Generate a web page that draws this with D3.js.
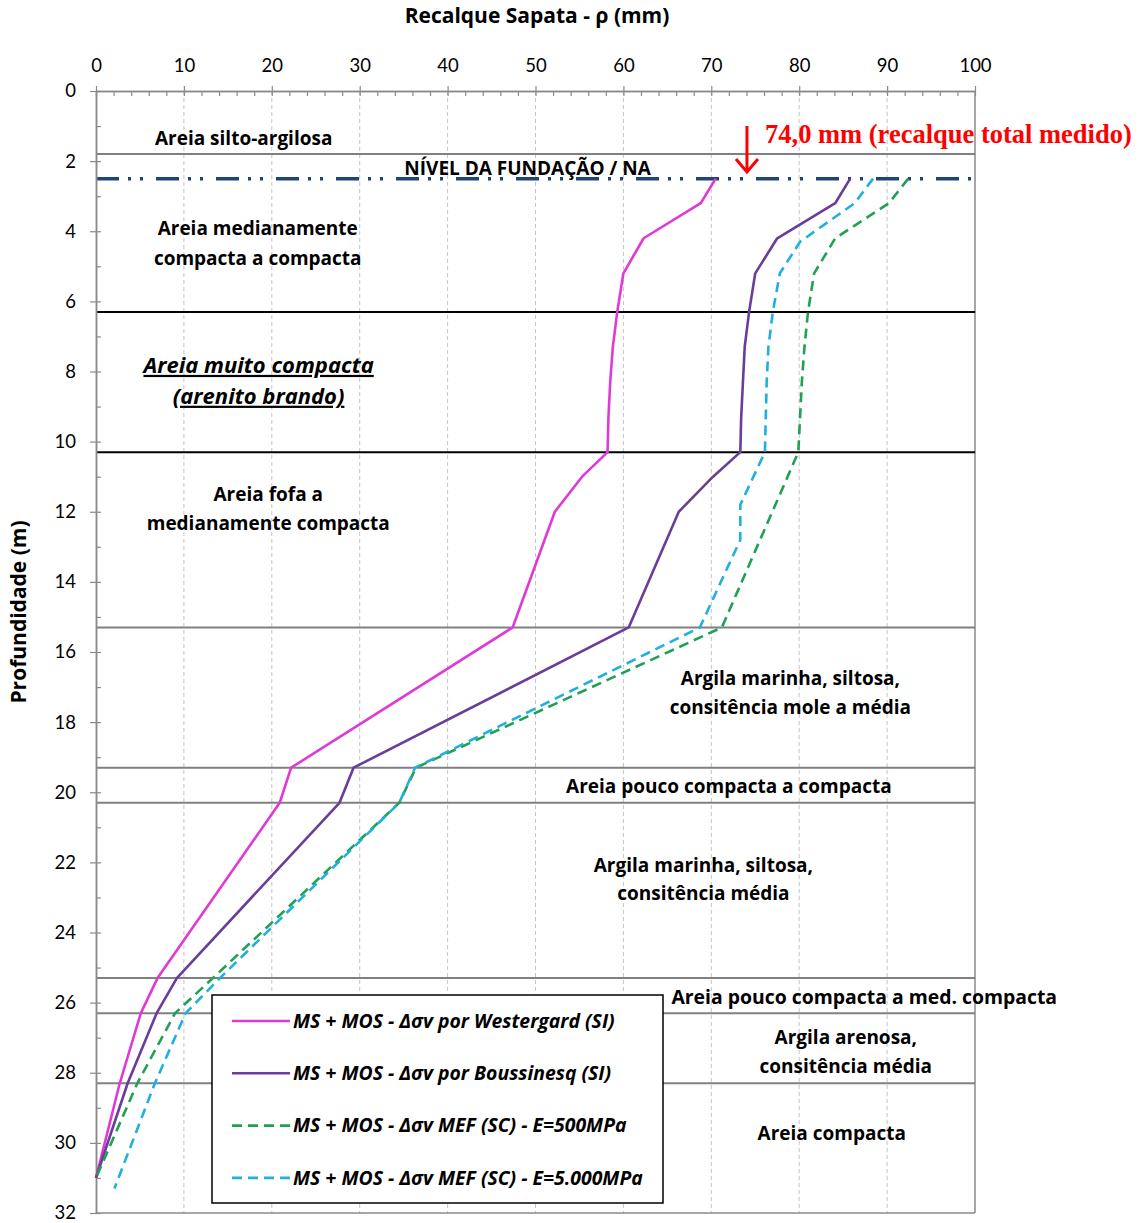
<!DOCTYPE html>
<html><head><meta charset="utf-8">
<script src="https://cdn.jsdelivr.net/npm/d3@7"></script>
<style>
html,body{margin:0;padding:0;background:#fff;}
svg{display:block;font-family:"Open Sans",Lato,sans-serif;}
</style></head>
<body>
<svg id="chart" width="1142" height="1223"></svg>
<script>
// ---------------- DATA ----------------
const xTicks = [0,10,20,30,40,50,60,70,80,90,100];
const yTicks = [0,2,4,6,8,10,12,14,16,18,20,22,24,26,28,30,32];

const westergardDepth = [2.5,3.2,4.2,5.2,6.3,7.3,8.3,9.3,10.3,11.0,12.0,15.3,19.3,20.3,25.3,26.3,28.3,31.0];
const westergardValue = [70.5,68.8,62.3,60.0,59.3,58.8,58.5,58.3,58.2,55.3,52.2,47.4,22.2,20.9,7.0,5.1,2.7,0];

const boussinesqDepth = [2.5,3.2,4.2,5.2,6.3,7.3,8.3,9.3,10.3,11.0,12.0,15.3,19.3,20.3,25.3,26.3,28.3,31.0];
const boussinesqValue = [85.8,84.1,77.5,75.0,74.3,73.8,73.6,73.4,73.3,70.2,66.3,60.6,29.3,27.7,9.2,6.9,3.6,0];

const mef500Depth = [2.5,3.2,4.2,5.2,6.3,7.3,8.3,9.3,10.3,15.3,19.3,20.3,25.3,26.3,28.3,31.0];
const mef500Value = [92.4,90.2,84.1,81.7,81.0,80.6,80.3,80.1,79.9,71.2,36.4,34.5,13.3,9.0,4.7,0];

const mef5000Depth = [2.5,3.2,4.3,5.2,6.3,7.3,8.3,9.3,10.3,11.8,12.8,15.3,19.3,20.3,25.3,26.3,28.3,31.3];
const mef5000Value = [88.4,86.3,80.1,77.8,77.0,76.5,76.3,76.2,76.1,73.3,73.3,68.7,36.3,34.5,14.1,10.2,6.7,2.1];

const layerBoundaries = [1.8,6.3,10.3,15.3,19.3,20.3,25.3,26.3,28.3];
const layerBoundaryKind = ["gray","black","black","gray","gray","gray","gray","gray","gray"];
const foundationLevel = 2.5;
const measuredSettlement = 74.0;

const seriesNames = [
  "MS + MOS - Δσv por Westergard (SI)",
  "MS + MOS - Δσv por Boussinesq (SI)",
  "MS + MOS - Δσv MEF (SC) - E=500MPa",
  "MS + MOS - Δσv MEF (SC) - E=5.000MPa"
];

// ---------------- CHART ----------------
const svg = d3.select("#chart");
svg.append("rect").attr("width",1142).attr("height",1223).attr("fill","#fff");

const L=96, R=975, T=91, B=1213;
const x = d3.scaleLinear().domain([0,100]).range([L,R]);
const y = d3.scaleLinear().domain([0,32]).range([T,B]);
const axisColor = "#8a8a8a";

// gridlines
svg.append("g").selectAll("line").data(xTicks.filter(d=>d>0 && d<100)).join("line")
  .attr("x1",d=>x(d)).attr("x2",d=>x(d)).attr("y1",T).attr("y2",B)
  .attr("stroke","#c4c4c4").attr("stroke-width",1).attr("stroke-dasharray","4,3");

// right and bottom borders
svg.append("line").attr("x1",x(100)).attr("x2",x(100)).attr("y1",T).attr("y2",B).attr("stroke",axisColor).attr("stroke-width",1.5);
svg.append("line").attr("x1",L).attr("x2",R).attr("y1",B).attr("y2",B).attr("stroke",axisColor).attr("stroke-width",1.5);

// layer boundaries
svg.append("g").selectAll("line").data(layerBoundaries).join("line")
  .attr("x1",L).attr("x2",R).attr("y1",d=>y(d)).attr("y2",d=>y(d))
  .attr("stroke",(d,i)=>layerBoundaryKind[i]==="black"?"#000":"#808080")
  .attr("stroke-width",2);

// foundation / water level line
svg.append("line").attr("x1",L).attr("x2",R).attr("y1",y(foundationLevel)).attr("y2",y(foundationLevel))
  .attr("stroke","#1f4577").attr("stroke-width",3.5).attr("stroke-dasharray","23,9,3,9,3,13");

// axes
const topAxis = d3.axisTop(x).tickValues(xTicks).tickSize(5).tickSizeOuter(0).tickPadding(14).tickFormat(d3.format("d"));
const gTop = svg.append("g").attr("transform",`translate(0,${T})`).call(topAxis);
const topMinor = d3.axisBottom(x).tickValues(d3.range(0,101,2)).tickSize(5).tickSizeOuter(0).tickFormat("");
const gTopMinor = svg.append("g").attr("transform",`translate(0,${T})`).call(topMinor);

const leftAxis = d3.axisLeft(y).tickValues(yTicks).tickSize(6).tickSizeOuter(0).tickPadding(14).tickFormat(d3.format("d"));
const gLeft = svg.append("g").attr("transform",`translate(${L},0)`).call(leftAxis);
const leftMinor = d3.axisRight(y).tickValues(d3.range(0,33,1)).tickSize(5).tickSizeOuter(0).tickFormat("");
const gLeftMinor = svg.append("g").attr("transform",`translate(${L},0)`).call(leftMinor);

[gTop,gTopMinor,gLeft,gLeftMinor].forEach(g=>{
  g.select(".domain").attr("stroke",axisColor).attr("stroke-width",1.5);
  g.selectAll(".tick line").attr("stroke",axisColor).attr("stroke-width",1.2);
  g.selectAll(".tick text").attr("fill","#000").attr("font-size",18.5).attr("font-family","Lato,sans-serif");
});

// titles
svg.append("text").attr("x",537).attr("y",23).attr("text-anchor","middle")
  .attr("font-size",21).attr("font-weight",700).text("Recalque Sapata - ρ (mm)");
svg.append("text").attr("transform","translate(19,612) rotate(-90)").attr("text-anchor","middle")
  .attr("dy","0.35em").attr("font-size",21).attr("font-weight",700).text("Profundidade (m)");

// series
const series = [
  {d:westergardDepth, v:westergardValue, color:"#e03ad6", dash:null},
  {d:boussinesqDepth, v:boussinesqValue, color:"#6a3d98", dash:null},
  {d:mef500Depth, v:mef500Value, color:"#20a055", dash:"10,6"},
  {d:mef5000Depth, v:mef5000Value, color:"#1fb0de", dash:"10,6"}
];
const line = d3.line().x(p=>x(p[0])).y(p=>y(p[1]));
series.forEach(s=>{
  const pts = s.d.map((dd,i)=>[s.v[i],dd]);
  svg.append("path").datum(pts).attr("d",line).attr("fill","none")
    .attr("stroke",s.color).attr("stroke-width",2.6)
    .attr("stroke-dasharray",s.dash).attr("stroke-linejoin","round");
});

// layer labels (x value, depth)
const labels = [
  {t:"Areia silto-argilosa", x:16.8, d:1.34},
  {t:"NÍVEL DA FUNDAÇÃO / NA", x:49.1, d:2.2},
  {t:"Areia medianamente", x:18.4, d:3.91},
  {t:"compacta a compacta", x:18.4, d:4.76},
  {t:"Areia muito compacta", x:18.5, d:7.82, it:true},
  {t:"(arenito brando)", x:18.5, d:8.7, it:true},
  {t:"Areia fofa a", x:19.6, d:11.49},
  {t:"medianamente compacta", x:19.6, d:12.32},
  {t:"Argila marinha, siltosa,", x:79.0, d:16.74},
  {t:"consitência mole a média", x:79.0, d:17.57},
  {t:"Areia pouco compacta a compacta", x:72.0, d:19.82},
  {t:"Argila marinha, siltosa,", x:69.1, d:22.08},
  {t:"consitência média", x:69.1, d:22.88},
  {t:"Argila arenosa,", x:85.3, d:26.98},
  {t:"consitência média", x:85.3, d:27.81},
  {t:"Areia compacta", x:83.7, d:29.72}
];
svg.append("g").selectAll("text").data(labels).join("text")
  .attr("x",l=>x(l.x)).attr("y",l=>y(l.d)).attr("dy","0.35em")
  .attr("text-anchor","middle").attr("font-size",l=>l.it?22:19).attr("font-weight",700)
  .attr("font-style",l=>l.it?"italic":"normal")
  .attr("text-decoration",l=>l.it?"underline":"none")
  .text(l=>l.t);

// legend
const lg = svg.append("g");
lg.append("rect").attr("x",212).attr("y",995).attr("width",451).attr("height",208)
  .attr("fill","#fff").attr("stroke","#000").attr("stroke-width",1.5);
series.forEach((s,i)=>{
  const yy = 1021 + i*52.3;
  lg.append("line").attr("x1",232).attr("x2",290).attr("y1",yy).attr("y2",yy)
    .attr("stroke",s.color).attr("stroke-width",2.6).attr("stroke-dasharray",s.dash);
  lg.append("text").attr("x",293).attr("y",yy).attr("dy","0.35em")
    .attr("font-size",19.4).attr("font-style","italic").attr("font-weight",700).text(seriesNames[i]);
});

// label drawn after legend (sits right of legend)
svg.append("text").attr("x",x(87.4)).attr("y",y(25.84)).attr("dy","0.35em")
  .attr("text-anchor","middle").attr("font-size",19.4).attr("font-weight",700)
  .text("Areia pouco compacta a med. compacta");

// measured settlement annotation
const ax = x(measuredSettlement)+0.5;
svg.append("line").attr("x1",ax).attr("x2",ax).attr("y1",126).attr("y2",171)
  .attr("stroke","#ff0000").attr("stroke-width",3);
svg.append("path").attr("d",`M${ax-11},${159} L${ax},${172} L${ax+11},${159}`)
  .attr("fill","none").attr("stroke","#ff0000").attr("stroke-width",3);
svg.append("text").attr("x",765).attr("y",143).attr("fill","#ff0000")
  .attr("font-family","'Liberation Serif','Times New Roman',serif").attr("font-weight",700)
  .attr("font-size",26.5).text(measuredSettlement.toFixed(1).replace(".",",")+" mm (recalque total medido)");
</script>
</body></html>
